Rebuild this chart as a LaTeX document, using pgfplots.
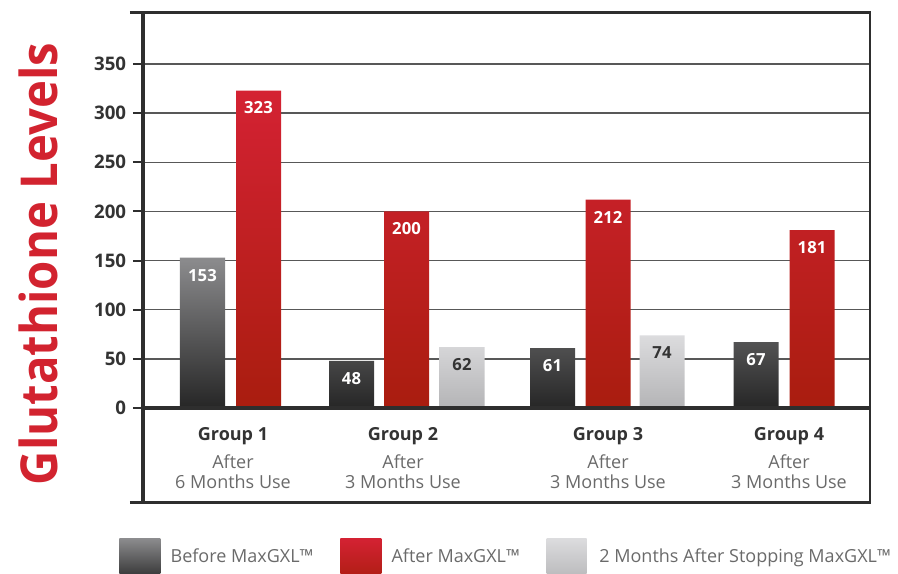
\documentclass[border=0pt]{standalone}
\usepackage{pgfplots}
\pgfplotsset{compat=1.18}
\usepackage{fontspec}
\setmainfont{Open Sans}
\definecolor{framec}{HTML}{2E2E2E}
\definecolor{gridc}{HTML}{585858}
\definecolor{redlab}{HTML}{D2232F}
\definecolor{graytop}{HTML}{8C8C8E}
\definecolor{graybot}{HTML}{262626}
\definecolor{redtop}{HTML}{D42233}
\definecolor{redbot}{HTML}{A91D0F}
\definecolor{lighttop}{HTML}{DCDCDE}
\definecolor{lightbot}{HTML}{B4B4B6}
\definecolor{txtgray}{HTML}{6A6A6A}
\definecolor{ticktxt}{HTML}{333333}
\begin{document}
\begin{tikzpicture}
\begin{axis}[
  x=0.75pt, y=0.73716pt,
  xmin=143, xmax=870, ymin=-96, ymax=402,
  clip=false,
  axis line style={draw=none},
  ytick={0,50,...,350},
  ymajorgrids,
  grid style={gridc, line width=1.1pt},
  tick align=outside,
  ytick pos=left,
  major tick length=7.5pt,
  ytick style={framec, line width=1.5pt},
  xtick={233,403,608,789},
  xtick style={draw=none},
  xticklabels={
    {{\bfseries\fontsize{13.5}{16}\selectfont Group 1}\\[6pt]\textcolor{txtgray}{After}\\\textcolor{txtgray}{6 Months Use}},
    {{\bfseries\fontsize{13.5}{16}\selectfont Group 2}\\[6pt]\textcolor{txtgray}{After}\\\textcolor{txtgray}{3 Months Use}},
    {{\bfseries\fontsize{13.5}{16}\selectfont Group 3}\\[6pt]\textcolor{txtgray}{After}\\\textcolor{txtgray}{3 Months Use}},
    {{\bfseries\fontsize{13.5}{16}\selectfont Group 4}\\[6pt]\textcolor{txtgray}{After}\\\textcolor{txtgray}{3 Months Use}}},
  xticklabel style={align=center, anchor=north, yshift=64pt, inner sep=0pt, text=ticktxt,
    font=\fontsize{13.5}{15}\selectfont},
  yticklabel style={font=\bfseries\fontsize{14}{16}\selectfont, text=ticktxt, inner sep=0pt, xshift=-5pt},
  /pgf/number format/assume math mode=true,
  ylabel={\resizebox{331.5pt}{29pt}{\bfseries Glutathione Levels}},
  ylabel style={at={(axis description cs:-0.1445,0.487)}, anchor=center, text=redlab, inner sep=0pt},
  legend columns=3,
  legend cell align=left,
  legend style={at={(axis cs:119,-155.7)}, anchor=west, draw=none, fill=none, inner sep=0pt,
    font=\fontsize{13.5}{16}\selectfont, text=txtgray,
    /tikz/every even column/.append style={column sep=18pt}},
]
\addplot[ybar, bar width=45, bar shift=0pt, draw=none, top color=graytop, bottom color=graybot,
  nodes near coords,
  every node near coord/.append style={anchor=north, yshift=-5pt, text=white, font=\bfseries\fontsize{12.5}{14}\selectfont},
  legend image code/.code={\shade[top color=graytop,bottom color=graybot] (0pt,-20pt) rectangle (30.75pt,14pt); \path (36.5pt,0pt);}]
  coordinates {(202.5,153) (351.5,48) (552.5,61) (756,67)};
\addlegendentry{Before MaxGXL™}
\addplot[ybar, bar width=45, bar shift=0pt, draw=none, top color=redtop, bottom color=redbot,
  nodes near coords,
  every node near coord/.append style={anchor=north, yshift=-5pt, text=white, font=\bfseries\fontsize{12.5}{14}\selectfont},
  legend image code/.code={\shade[top color=redtop,bottom color=redbot] (0pt,-20pt) rectangle (30.75pt,14pt); \path (36.5pt,0pt);}]
  coordinates {(258.5,323) (406.5,200) (608,212) (812,181)};
\addlegendentry{After MaxGXL™}
\addplot[ybar, bar width=45, bar shift=0pt, draw=none, top color=lighttop, bottom color=lightbot,
  nodes near coords,
  every node near coord/.append style={anchor=north, yshift=-5pt, text=ticktxt, font=\bfseries\fontsize{12.5}{14}\selectfont},
  legend image code/.code={\shade[top color=lighttop,bottom color=lightbot] (0pt,-20pt) rectangle (30pt,14pt); \path (37.5pt,0pt);}]
  coordinates {(462,62) (662,74)};
\addlegendentry{2 Months After Stopping MaxGXL™}
\draw[framec, line width=2.25pt] (axis cs:130,402) -- (axis cs:871,402);
\draw[framec, line width=2.25pt] (axis cs:130,-96) -- (axis cs:871,-96);
\draw[framec, line width=3.4pt] (axis cs:143,403.5) -- (axis cs:143,-97.5);
\draw[framec, line width=1.9pt] (axis cs:870,403) -- (axis cs:870,-97);
\draw[framec, line width=3pt] (axis cs:141,0) -- (axis cs:871,0);
\coordinate (BBbl) at (axis cs:0,-167.9);
\coordinate (BBtr) at (axis cs:898,415.1);
\end{axis}
\pgfresetboundingbox
\useasboundingbox (BBbl) rectangle (BBtr);
\end{tikzpicture}
\end{document}
